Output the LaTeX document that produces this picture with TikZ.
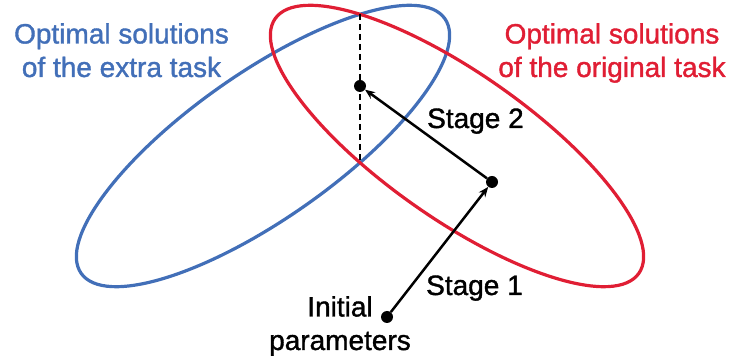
\documentclass[tikz,border=0pt]{standalone}
\usepackage{fontspec}
\setmainfont{Liberation Sans}[FakeBold=1.3]
\usetikzlibrary{arrows.meta}
\definecolor{extrablue}{RGB}{66,111,184}
\definecolor{origred}{RGB}{224,30,52}
\tikzset{
  region/.style={line width=3.2pt},
  dot/.style={circle, fill=black, minimum size=12pt, inner sep=0pt},
  stagearrow/.style={line width=2.5pt, -{Stealth[length=10pt,width=8pt]}},
  guide/.style={line width=1.5pt, dash pattern=on 6pt off 4pt},
  label/.style={inner sep=0pt, font=\fontsize{28}{33.5}\selectfont, align=center}
}
\begin{document}
\begin{tikzpicture}[x=1pt,y=1pt]
  \useasboundingbox (0,0) rectangle (732,356);

  % the two solution sets
  \draw[region, extrablue, rotate around={35:(263,210)}]
    (263,210) ellipse [x radius=222, y radius=73];
  \draw[region, origred, rotate around={-35:(457,210)}]
    (457,210) ellipse [x radius=222, y radius=73];

  % vertical guide through the two crossing points
  \coordinate (crosstop) at (360,342);
  \coordinate (crossbot) at (360,194);
  \draw[guide] (crosstop) -- (crossbot);

  % parameter points
  \node[dot] (init) at (387,39) {};
  \node[dot] (mid) at (492,174) {};
  \node[dot] (final) at (360,270) {};

  \draw[stagearrow] (init) -- (mid);
  \draw[stagearrow] (mid) -- (final);

  % labels
  \node[label, text=extrablue, anchor=north] (extralbl) at (121.5,333)
    {Optimal solutions\\of the extra task};
  \node[label, text=origred, anchor=north] (origlbl) at (612,333)
    {Optimal solutions\\of the original task};
  \node[label, anchor=base west] (s2) at (427,228) {Stage 2};
  \node[label, anchor=base west] (s1) at (426,61) {Stage 1};
  \node[label, anchor=north] (initlbl) at (340,60) {Initial\\parameters};
\end{tikzpicture}
\end{document}
